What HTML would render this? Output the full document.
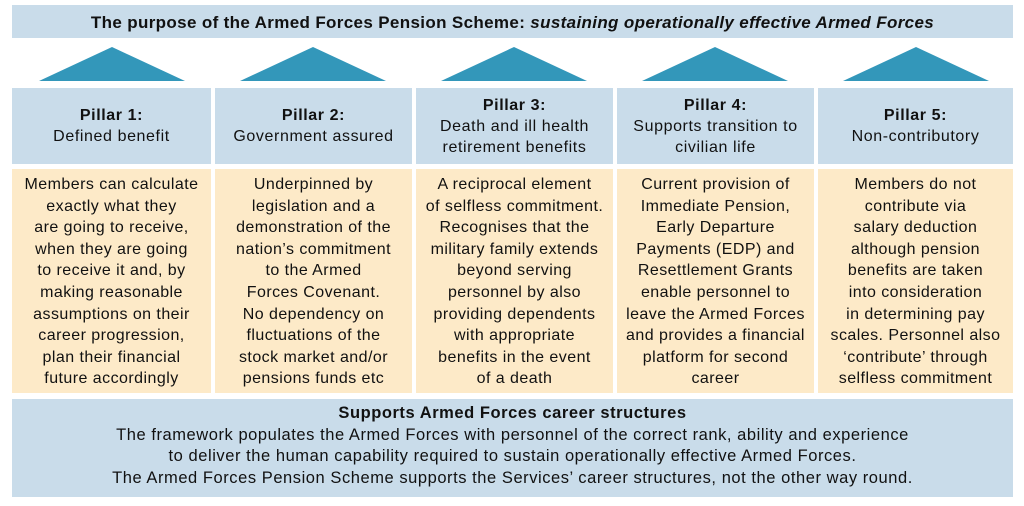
<!DOCTYPE html>
<html><head><meta charset="utf-8"><style>
body{margin:0;width:1024px;height:506px;background:#fff;font-family:"Liberation Sans",sans-serif;color:#111;position:relative;overflow:hidden}
.b{position:absolute;background:#c9dcea;text-align:center}
.y{position:absolute;background:#fdeac8;text-align:center;font-size:16px;letter-spacing:0.45px;line-height:21.6px;padding-top:5px;box-sizing:border-box;white-space:nowrap}
.h{font-size:16px;letter-spacing:0.6px;line-height:21px;display:flex;flex-direction:column;justify-content:center}
.tri{position:absolute;top:47px;width:0;height:0;border-left:73px solid transparent;border-right:73px solid transparent;border-bottom:34px solid #3397ba}
</style></head><body>
<div class="b" style="left:12px;top:5px;width:1001px;height:33px;line-height:35px;font-size:17px;letter-spacing:0.35px;font-weight:bold">The purpose of the Armed Forces Pension Scheme: <i>sustaining operationally effective Armed Forces</i></div>
<div class="tri" style="left:39px"></div>
<div class="tri" style="left:240px"></div>
<div class="tri" style="left:441px"></div>
<div class="tri" style="left:642px"></div>
<div class="tri" style="left:843px"></div>

<div class="b h" style="left:12px;top:88px;width:199px;height:76px"><b>Pillar 1:</b>Defined benefit</div>
<div class="b h" style="left:215px;top:88px;width:197px;height:76px"><b>Pillar 2:</b>Government assured</div>
<div class="b h" style="left:416px;top:88px;width:197px;height:76px"><b>Pillar 3:</b>Death and ill health<br>retirement benefits</div>
<div class="b h" style="left:617px;top:88px;width:197px;height:76px"><b>Pillar 4:</b>Supports transition to<br>civilian life</div>
<div class="b h" style="left:818px;top:88px;width:195px;height:76px"><b>Pillar 5:</b>Non-contributory</div>

<div class="y" style="left:12px;top:169px;width:199px;height:224px">Members can calculate<br>exactly what they<br>are going to receive,<br>when they are going<br>to receive it and, by<br>making reasonable<br>assumptions on their<br>career progression,<br>plan their financial<br>future accordingly</div>
<div class="y" style="left:215px;top:169px;width:197px;height:224px">Underpinned by<br>legislation and a<br>demonstration of the<br>nation’s commitment<br>to the Armed<br>Forces Covenant.<br>No dependency on<br>fluctuations of the<br>stock market and/or<br>pensions funds etc</div>
<div class="y" style="left:416px;top:169px;width:197px;height:224px">A reciprocal element<br>of selfless commitment.<br>Recognises that the<br>military family extends<br>beyond serving<br>personnel by also<br>providing dependents<br>with appropriate<br>benefits in the event<br>of a death</div>
<div class="y" style="left:617px;top:169px;width:197px;height:224px">Current provision of<br>Immediate Pension,<br>Early Departure<br>Payments (EDP) and<br>Resettlement Grants<br>enable personnel to<br>leave the Armed Forces<br>and provides a financial<br>platform for second<br>career</div>
<div class="y" style="left:818px;top:169px;width:195px;height:224px">Members do not<br>contribute via<br>salary deduction<br>although pension<br>benefits are taken<br>into consideration<br>in determining pay<br>scales. Personnel also<br>‘contribute’ through<br>selfless commitment</div>

<div class="b" style="left:12px;top:399px;width:1001px;height:98px;font-size:16.5px;letter-spacing:0.55px;line-height:21.5px;padding-top:4px;box-sizing:border-box"><b>Supports Armed Forces career structures</b><br>The framework populates the Armed Forces with personnel of the correct rank, ability and experience<br>to deliver the human capability required to sustain operationally effective Armed Forces.<br>The Armed Forces Pension Scheme supports the Services’ career structures, not the other way round.</div>
</body></html>
